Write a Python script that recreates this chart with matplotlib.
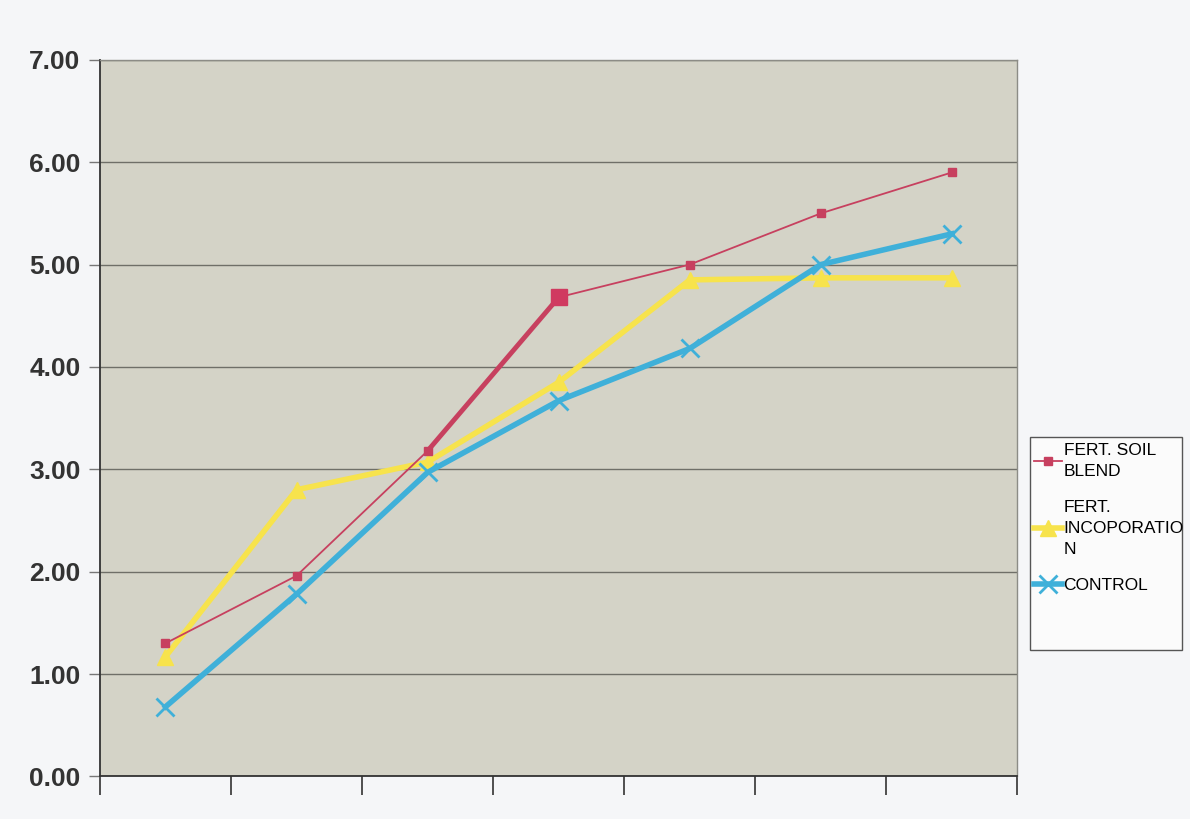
import matplotlib
matplotlib.use('agg')
import matplotlib.pyplot as plt
from matplotlib.patches import Rectangle

plt.rcParams['font.family'] = ['Liberation Sans', 'DejaVu Sans']

# seven sampling points, no labels on the category axis
points = [1, 2, 3, 4, 5, 6, 7]
soil_blend = [1.30, 1.96, 3.18, 4.68, 5.00, 5.50, 5.90]
incoporation = [1.17, 2.80, 3.07, 3.85, 4.85, 4.87, 4.87]
control = [0.68, 1.78, 2.97, 3.67, 4.18, 5.00, 5.30]
yticks = [0, 1, 2, 3, 4, 5, 6, 7]
legend_labels = ['FERT. SOIL\nBLEND', 'FERT.\nINCOPORATIO\nN', 'CONTROL']

fig = plt.figure(figsize=(11.9, 8.19), dpi=100)
fig.patch.set_facecolor('#f5f6f8')
ax = fig.add_axes([0.084, 0.052, 0.771, 0.875])
ax.set_facecolor('#d4d3c7')

l2, = ax.plot(points, incoporation, '-^', color='#f7e34c', lw=4, ms=11,
              mec='#f7e34c', zorder=3, label=legend_labels[1])
l3, = ax.plot(points, control, '-x', color='#3fb0d9', lw=4, ms=13, mew=2,
              zorder=4, label=legend_labels[2])
l1, = ax.plot(points, soil_blend, '-s', color='#c7405f', lw=1.3, ms=6,
              zorder=5, label=legend_labels[0])
# the third segment of the red series is printed heavier in the original
ax.plot(points[2:4], soil_blend[2:4], '-', color='#c7405f', lw=3.5, zorder=5)
ax.plot(points[3:4], soil_blend[3:4], 's', color='#d03a60', ms=12, zorder=6)

ax.set_xlim(0.5, 7.5)
ax.set_ylim(0, 7)
ax.set_yticks(yticks)
ax.set_yticklabels(['%.2f' % v for v in yticks], fontsize=19,
                   fontweight='bold', color='#333333')
ax.set_xticks([0.5 + i for i in range(8)])
ax.set_xticklabels([])
ax.tick_params(axis='x', length=14, width=1.2, color='#333333', direction='out')
ax.tick_params(axis='y', length=8, width=1, color='#777777', pad=6)
ax.yaxis.grid(True, color='#6f6f68', lw=1)
ax.set_axisbelow(True)

for side in ['left', 'bottom']:
    ax.spines[side].set_color('#333333')
    ax.spines[side].set_linewidth(1.3)
for side in ['top', 'right']:
    ax.spines[side].set_color('#8c8c86')
    ax.spines[side].set_linewidth(1)

# legend box drawn separately, it is taller than the entries need
fig.patches.append(Rectangle((1030 / 1190, 1 - 650 / 819), 152 / 1190, 213 / 819,
                             transform=fig.transFigure, facecolor='#fbfbfb',
                             edgecolor='#555555', lw=1, zorder=0))
leg = fig.legend(handles=[l1, l2, l3], loc='upper left',
                 bbox_to_anchor=(1034 / 1190, 1 - 443 / 819), fontsize=12.5,
                 frameon=False, handlelength=1.6, handletextpad=0.1,
                 borderpad=0, labelspacing=1.2, borderaxespad=0)
for t in leg.get_texts():
    t.set_linespacing(1.5)

plt.savefig('out.png', dpi=100, facecolor=fig.get_facecolor())
